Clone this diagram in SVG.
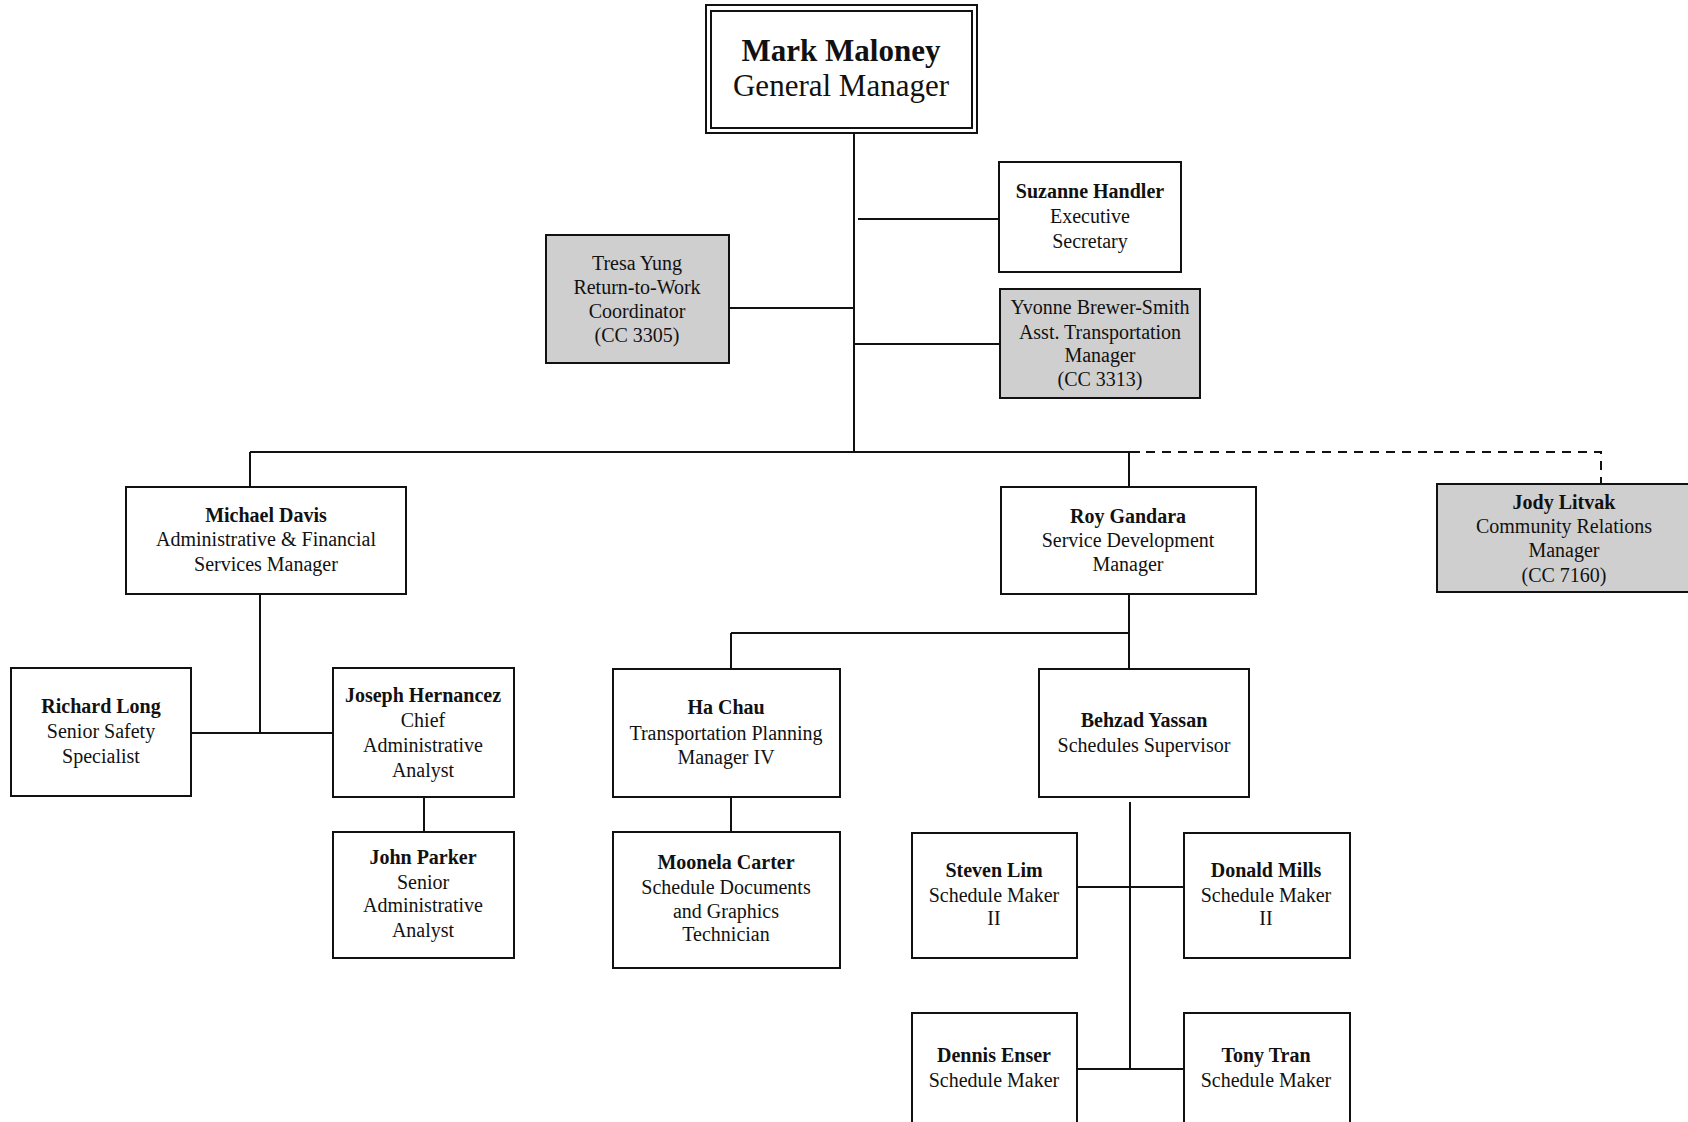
<svg xmlns="http://www.w3.org/2000/svg" width="1688" height="1122" viewBox="0 0 1688 1122">
<style>
.box{fill:#fff;stroke:#111;stroke-width:2}
.gray{fill:#cfcfcf;stroke:#111;stroke-width:2}
.ln{fill:none;stroke:#111;stroke-width:2}
.dash{fill:none;stroke:#111;stroke-width:2;stroke-dasharray:9 7}
text{font-family:"Liberation Serif","Times New Roman",serif;font-size:20px;fill:#111;text-anchor:middle}
.n{font-weight:bold}
.big{font-size:31px}
</style>
<rect width="1688" height="1122" fill="#fff"/>
<g id="connectors">
<path class="ln" d="M854,133 V452"/>
<path class="ln" d="M858,219 H999"/>
<path class="ln" d="M729,308 H854"/>
<path class="ln" d="M854,344 H1000"/>
<path class="ln" d="M250,452 H1140 M250,452 V487 M1129,452 V487"/>
<path class="dash" d="M1146,452 H1601 V484"/>
<path class="ln" d="M260,594 V733 M191,733 H333"/>
<path class="ln" d="M424,797 V832"/>
<path class="ln" d="M1129,594 V669 M731,633 H1129 M731,633 V669"/>
<path class="ln" d="M731,797 V832"/>
<path class="ln" d="M1130,802 V1069 M1077,887 H1184 M1077,1069 H1184"/>
</g>
<g id="mark-maloney">
<rect class="box" x="706" y="5" width="271" height="128"/>
<rect class="box" x="711" y="11" width="261" height="117"/>
<text class="n big" x="841" y="61">Mark Maloney</text>
<text class="big" x="841" y="96">General Manager</text>
</g>
<g id="suzanne-handler">
<rect class="box" x="999" y="162" width="182" height="110"/>
<text class="n" x="1090" y="198">Suzanne Handler</text>
<text x="1090" y="223">Executive</text>
<text x="1090" y="248">Secretary</text>
</g>
<g id="tresa-yung">
<rect class="gray" x="546" y="235" width="183" height="128"/>
<text x="637" y="270">Tresa Yung</text>
<text x="637" y="294">Return-to-Work</text>
<text x="637" y="318">Coordinator</text>
<text x="637" y="342">(CC 3305)</text>
</g>
<g id="yvonne-brewer-smith">
<rect class="gray" x="1000" y="289" width="200" height="109"/>
<text x="1100" y="314">Yvonne Brewer-Smith</text>
<text x="1100" y="339">Asst. Transportation</text>
<text x="1100" y="362">Manager</text>
<text x="1100" y="386">(CC 3313)</text>
</g>
<g id="michael-davis">
<rect class="box" x="126" y="487" width="280" height="107"/>
<text class="n" x="266" y="522">Michael Davis</text>
<text x="266" y="546">Administrative &amp; Financial</text>
<text x="266" y="571">Services Manager</text>
</g>
<g id="roy-gandara">
<rect class="box" x="1001" y="487" width="255" height="107"/>
<text class="n" x="1128" y="523">Roy Gandara</text>
<text x="1128" y="547">Service Development</text>
<text x="1128" y="571">Manager</text>
</g>
<g id="jody-litvak">
<rect class="gray" x="1437" y="484" width="260" height="108"/>
<text class="n" x="1564" y="509">Jody Litvak</text>
<text x="1564" y="533">Community Relations</text>
<text x="1564" y="557">Manager</text>
<text x="1564" y="582">(CC 7160)</text>
</g>
<g id="richard-long">
<rect class="box" x="11" y="668" width="180" height="128"/>
<text class="n" x="101" y="713">Richard Long</text>
<text x="101" y="738">Senior Safety</text>
<text x="101" y="763">Specialist</text>
</g>
<g id="joseph-hernancez">
<rect class="box" x="333" y="668" width="181" height="129"/>
<text class="n" x="423" y="702">Joseph Hernancez</text>
<text x="423" y="727">Chief</text>
<text x="423" y="752">Administrative</text>
<text x="423" y="777">Analyst</text>
</g>
<g id="john-parker">
<rect class="box" x="333" y="832" width="181" height="126"/>
<text class="n" x="423" y="864">John Parker</text>
<text x="423" y="889">Senior</text>
<text x="423" y="912">Administrative</text>
<text x="423" y="937">Analyst</text>
</g>
<g id="ha-chau">
<rect class="box" x="613" y="669" width="227" height="128"/>
<text class="n" x="726" y="714">Ha Chau</text>
<text x="726" y="740">Transportation Planning</text>
<text x="726" y="764">Manager IV</text>
</g>
<g id="behzad-yassan">
<rect class="box" x="1039" y="669" width="210" height="128"/>
<text class="n" x="1144" y="727">Behzad Yassan</text>
<text x="1144" y="752">Schedules Supervisor</text>
</g>
<g id="moonela-carter">
<rect class="box" x="613" y="832" width="227" height="136"/>
<text class="n" x="726" y="869">Moonela Carter</text>
<text x="726" y="894">Schedule Documents</text>
<text x="726" y="918">and Graphics</text>
<text x="726" y="941">Technician</text>
</g>
<g id="steven-lim">
<rect class="box" x="912" y="833" width="165" height="125"/>
<text class="n" x="994" y="877">Steven Lim</text>
<text x="994" y="902">Schedule Maker</text>
<text x="994" y="925">II</text>
</g>
<g id="donald-mills">
<rect class="box" x="1184" y="833" width="166" height="125"/>
<text class="n" x="1266" y="877">Donald Mills</text>
<text x="1266" y="902">Schedule Maker</text>
<text x="1266" y="925">II</text>
</g>
<g id="dennis-enser">
<rect class="box" x="912" y="1013" width="165" height="130"/>
<text class="n" x="994" y="1062">Dennis Enser</text>
<text x="994" y="1087">Schedule Maker</text>
</g>
<g id="tony-tran">
<rect class="box" x="1184" y="1013" width="166" height="130"/>
<text class="n" x="1266" y="1062">Tony Tran</text>
<text x="1266" y="1087">Schedule Maker</text>
</g>
</svg>
